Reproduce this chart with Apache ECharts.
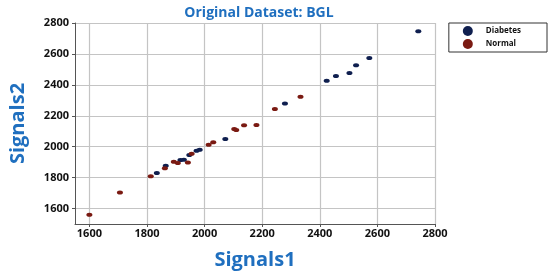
<!DOCTYPE html>
<html>
<head>
<meta charset="utf-8">
<script src="https://cdn.jsdelivr.net/npm/echarts@6/dist/echarts.min.js"></script>
<style>
html,body{margin:0;padding:0;background:#fff;}
#main{width:550px;height:278px;}
</style>
</head>
<body>
<div id="main"></div>
<script>
// Signals1 / Signals2 pairs
var diabetesX = [1834, 1865, 1916, 1928, 1947, 1972, 1983, 2072, 2279, 2424, 2456, 2503, 2526, 2572, 2742];
var diabetesY = [1830, 1877, 1914, 1916, 1946, 1974, 1981, 2050, 2280, 2426, 2458, 2477, 2527, 2574, 2746];
var normalX = [1600, 1706, 1813, 1862, 1893, 1907, 1942, 1955, 2014, 2030, 2103, 2110, 2137, 2180, 2244, 2333];
var normalY = [1560, 1703, 1809, 1861, 1903, 1895, 1897, 1955, 2013, 2028, 2114, 2108, 2138, 2140, 2243, 2323];
var xTicks = [1600, 1800, 2000, 2200, 2400, 2600, 2800];
var yTicks = [1600, 1800, 2000, 2200, 2400, 2600, 2800];

function pairs(xs, ys) {
    var out = [];
    for (var i = 0; i < xs.length; i++) out.push([xs[i], ys[i]]);
    return out;
}

var myChart = echarts.init(document.getElementById('main'));
var blue = '#1f6fbf';
var labelStyle = {
    color: '#111', fontWeight: 'bold', fontSize: 11, fontFamily: 'Open Sans',
    formatter: function (v) { return String(v); }
};

var option = {
    animation: false,
    title: {
        text: 'Original Dataset: BGL',
        left: 254, top: 1, textAlign: 'center',
        textStyle: { color: blue, fontSize: 14, fontWeight: 'bold', fontFamily: 'Open Sans' }
    },
    legend: {
        right: 3, top: 23,
        orient: 'vertical',
        itemWidth: 10, itemHeight: 10, itemGap: 3,
        padding: [3, 26, 3, 14],
        borderColor: '#333', borderWidth: 1,
        icon: 'circle',
        textStyle: { color: '#111', fontWeight: 'bold', fontSize: 8, fontFamily: 'Open Sans', padding: [0, 0, 0, 8] },
        data: ['Diabetes', 'Normal']
    },
    grid: { left: 72, right: 115, top: 23, bottom: 54 },
    xAxis: {
        type: 'value', min: 1550, max: 2800,
        name: 'Signals1', nameLocation: 'middle', nameGap: 26,
        nameTextStyle: { color: blue, fontSize: 20, fontWeight: 'bold', fontFamily: 'Open Sans' },
        axisLine: { show: true, lineStyle: { color: '#555' } },
        axisTick: { show: true, length: 3, customValues: xTicks, lineStyle: { color: '#555' } },
        axisLabel: Object.assign({ customValues: xTicks, margin: 4 }, labelStyle),
        splitLine: { show: true, lineStyle: { color: '#c4c4c4', width: 1.2 } }
    },
    yAxis: {
        type: 'value', min: 1500, max: 2800,
        name: 'Signals2', nameLocation: 'middle', nameGap: 47,
        nameTextStyle: { color: blue, fontSize: 20, fontWeight: 'bold', fontFamily: 'Open Sans' },
        axisLine: { show: true, lineStyle: { color: '#555' } },
        axisTick: { show: true, length: 3, customValues: yTicks, lineStyle: { color: '#555' } },
        axisLabel: Object.assign({ customValues: yTicks, margin: 6 }, labelStyle),
        splitLine: { show: true, lineStyle: { color: '#c4c4c4', width: 1.2 } }
    },
    series: [
        {
            name: 'Diabetes', type: 'scatter',
            symbol: 'circle', symbolSize: [6, 4],
            itemStyle: { color: '#0f1f4f', opacity: 1 },
            data: pairs(diabetesX, diabetesY)
        },
        {
            name: 'Normal', type: 'scatter',
            symbol: 'circle', symbolSize: [6, 4],
            itemStyle: { color: '#7a1a12', opacity: 1 },
            data: pairs(normalX, normalY)
        }
    ]
};
myChart.setOption(option);
</script>
</body>
</html>
